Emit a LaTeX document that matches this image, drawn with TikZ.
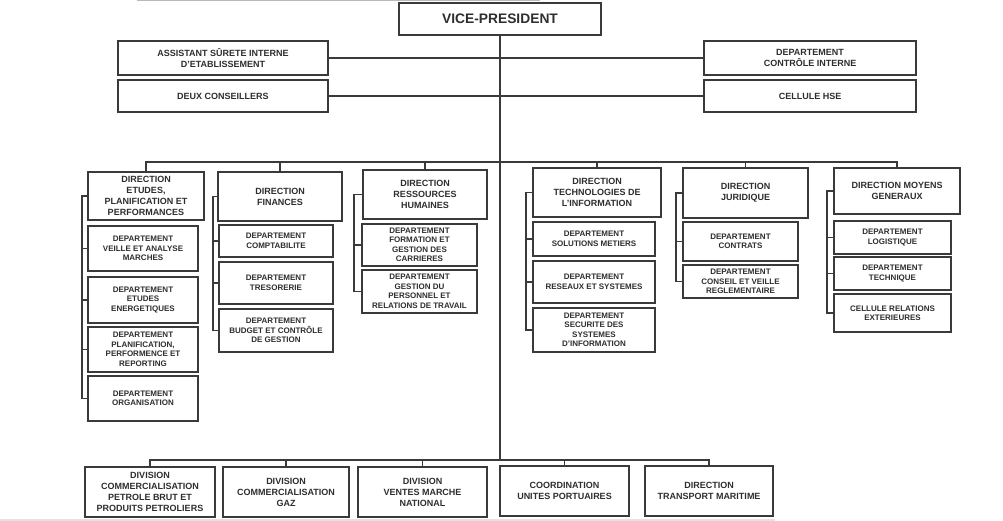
\documentclass[tikz,border=0pt]{standalone}
\usepackage{fontspec}
\setmainfont{Liberation Sans}
\definecolor{ln}{HTML}{3A3A3A}
\definecolor{tx}{HTML}{2E2E2E}
\begin{document}
\begin{tikzpicture}[x=1pt,y=-1pt,
  box/.style={draw=ln, line width=1.3pt, inner sep=0pt, align=center, text=tx,
    font=\bfseries\fontsize{8}{9.5}\selectfont},
  dirbox/.style={box, font=\bfseries\fontsize{9}{11}\selectfont},
  vpbox/.style={box, font=\bfseries\fontsize{13.8}{16}\selectfont},
  con/.style={draw=ln, line width=1.2pt}]
\fill[white] (0,0) rectangle (1003,521);
\useasboundingbox (0,0) rectangle (1003,521);
% scan edges
\draw[gray!55, line width=1pt] (137,0.6) -- (540,0.6);
\fill[gray!22] (0,518.5) rectangle (775,521);

% top level
\node[vpbox, minimum width=202pt, minimum height=32pt] (vp) at (500,19) {VICE-PRESIDENT};
\node[dirbox, minimum width=210pt, minimum height=34pt] (as) at (223,58) {ASSIST\-ANT SÛRETE INTERNE\\D'ETABLISSEMENT};
\node[dirbox, minimum width=210pt, minimum height=32pt] (dc) at (223,96) {DEUX CONSEILLERS};
\node[dirbox, minimum width=212pt, minimum height=34pt] (ci) at (810,58) {DEPARTEMENT\\CONTRÔLE INTERNE};
\node[dirbox, minimum width=212pt, minimum height=32pt] (hse) at (810,96) {CELLULE HSE};

\coordinate (bus) at (500,162);
\coordinate (bbus) at (500,460);

% directions
\node[dirbox, minimum width=116pt, minimum height=48pt] (d1) at (146,196) {DIRECTION\\ETUDES,\\PLANIFICATION ET\\PERFORMANCES};
\node[dirbox, minimum width=124pt, minimum height=49pt] (d2) at (280,196.5) {DIRECTION\\FINANCES};
\node[dirbox, minimum width=124pt, minimum height=49pt] (d3) at (425,194.5) {DIRECTION\\RESSOURCES\\HUMAINES};
\node[dirbox, minimum width=128pt, minimum height=49pt] (d4) at (597,192.5) {DIRECTION\\TECHNOLOGIES DE\\L'INFORMATION};
\node[dirbox, minimum width=125pt, minimum height=50pt] (d5) at (745.5,193) {DIRECTION\\JURIDIQUE};
\node[dirbox, minimum width=126pt, minimum height=46pt] (d6) at (897,191) {DIRECTION MOYENS\\GENERAUX};

% etudes
\node[box, minimum width=110pt, minimum height=45pt] (e1) at (143,248.5) {DEPARTEMENT\\VEILLE ET ANALYSE\\MARCHES};
\node[box, minimum width=110pt, minimum height=46pt] (e2) at (143,300) {DEPARTEMENT\\ETUDES\\ENERGETIQUES};
\node[box, minimum width=110pt, minimum height=45pt] (e3) at (143,349.5) {DEPARTEMENT\\PLANIFICATION,\\PERFORMENCE ET\\REPORTING};
\node[box, minimum width=110pt, minimum height=45pt] (e4) at (143,398.5) {DEPARTEMENT\\ORGANISATION};
% finances
\node[box, minimum width=114pt, minimum height=32pt] (f1) at (276,241) {DEPARTEMENT\\COMPTABILITE};
\node[box, minimum width=114pt, minimum height=42pt] (f2) at (276,283) {DEPARTEMENT\\TRESORERIE};
\node[box, minimum width=114pt, minimum height=43pt] (f3) at (276,330.5) {DEPARTEMENT\\BUDGET ET CONTRÔLE\\DE GESTION};
% RH
\node[box, minimum width=115pt, minimum height=42pt] (r1) at (419.5,245) {DEPARTEMENT\\FORMATION ET\\GESTION DES\\CARRIERES};
\node[box, minimum width=115pt, minimum height=43pt] (r2) at (419.5,291.5) {DEPARTEMENT\\GESTION DU\\PERSONNEL ET\\RELATIONS DE TRAVAIL};
% TI
\node[box, minimum width=122pt, minimum height=34pt] (t1) at (594,239) {DEPARTEMENT\\SOLUTIONS METIERS};
\node[box, minimum width=122pt, minimum height=42pt] (t2) at (594,282) {DEPARTEMENT\\RESEAUX ET SYSTEMES};
\node[box, minimum width=122pt, minimum height=44pt] (t3) at (594,330) {DEPARTEMENT\\SECURITE DES\\SYSTEMES\\D'INFORMATION};
% juridique
\node[box, minimum width=115pt, minimum height=39pt] (j1) at (740.5,241.5) {DEPARTEMENT\\CONTRATS};
\node[box, minimum width=115pt, minimum height=33pt] (j2) at (740.5,281.5) {DEPARTEMENT\\CONSEIL ET VEILLE\\REGLEMENTAIRE};
% moyens generaux
\node[box, minimum width=117pt, minimum height=33pt] (m1) at (892.5,237.5) {DEPARTEMENT\\LOGISTIQUE};
\node[box, minimum width=117pt, minimum height=33pt] (m2) at (892.5,273.5) {DEPARTEMENT\\TECHNIQUE};
\node[box, minimum width=117pt, minimum height=38pt] (m3) at (892.5,313) {CELLULE RELATIONS\\EXTERIEURES};

% bottom row
\node[dirbox, minimum width=130pt, minimum height=50pt] (b1) at (150,492) {DIVISION\\COMMERCIALISATION\\PETROLE BRUT ET\\PRODUITS PETROLIERS};
\node[dirbox, minimum width=126pt, minimum height=50pt] (b2) at (286,492) {DIVISION\\COMMERCIALISATION\\GAZ};
\node[dirbox, minimum width=129pt, minimum height=50pt] (b3) at (422.5,492) {DIVISION\\VENTES MARCHE\\NATIONAL};
\node[dirbox, minimum width=129pt, minimum height=50pt] (b4) at (564.5,491) {COORDINATION\\UNITES PORTUAIRES};
\node[dirbox, minimum width=128pt, minimum height=50pt] (b5) at (709,491) {DIRECTION\\TRANSPORT MARITIME};

% connectors: main trunk
\draw[con] (vp.south) -- (bbus);
\draw[con] (as.east) -- (ci.west);
\draw[con] (dc.east) -- (hse.west);
% direction bus
\draw[con] (d1.north) -- (d1.north |- bus) -| (d6.north);
\foreach \n in {d2,d3,d4,d5} \draw[con] (\n.north) -- (\n.north |- bus);
% bottom bus
\draw[con] (b1.north) -- (b1.north |- bbus) -| (b5.north);
\foreach \n in {b2,b3,b4} \draw[con] (\n.north) -- (\n.north |- bbus);

% brackets
\coordinate (x1) at (82,0);
\coordinate (x2) at (213,0);
\coordinate (x3) at (354,0);
\coordinate (x4) at (526,0);
\coordinate (x5) at (676,0);
\coordinate (x6) at (827,0);
\draw[con] (d1.west) -| (e4.west -| x1) -- (e4.west);
\foreach \n in {e1,e2,e3} \draw[con] (\n.west -| x1) -- (\n.west);
\draw[con] (d2.west) -| (f3.west -| x2) -- (f3.west);
\foreach \n in {f1,f2} \draw[con] (\n.west -| x2) -- (\n.west);
\draw[con] (d3.west) -| (r2.west -| x3) -- (r2.west);
\draw[con] (r1.west -| x3) -- (r1.west);
\draw[con] (d4.west) -| (t3.west -| x4) -- (t3.west);
\foreach \n in {t1,t2} \draw[con] (\n.west -| x4) -- (\n.west);
\draw[con] (d5.west) -| (j2.west -| x5) -- (j2.west);
\draw[con] (j1.west -| x5) -- (j1.west);
\draw[con] (d6.west) -| (m3.west -| x6) -- (m3.west);
\foreach \n in {m1,m2} \draw[con] (\n.west -| x6) -- (\n.west);
\end{tikzpicture}
\end{document}
